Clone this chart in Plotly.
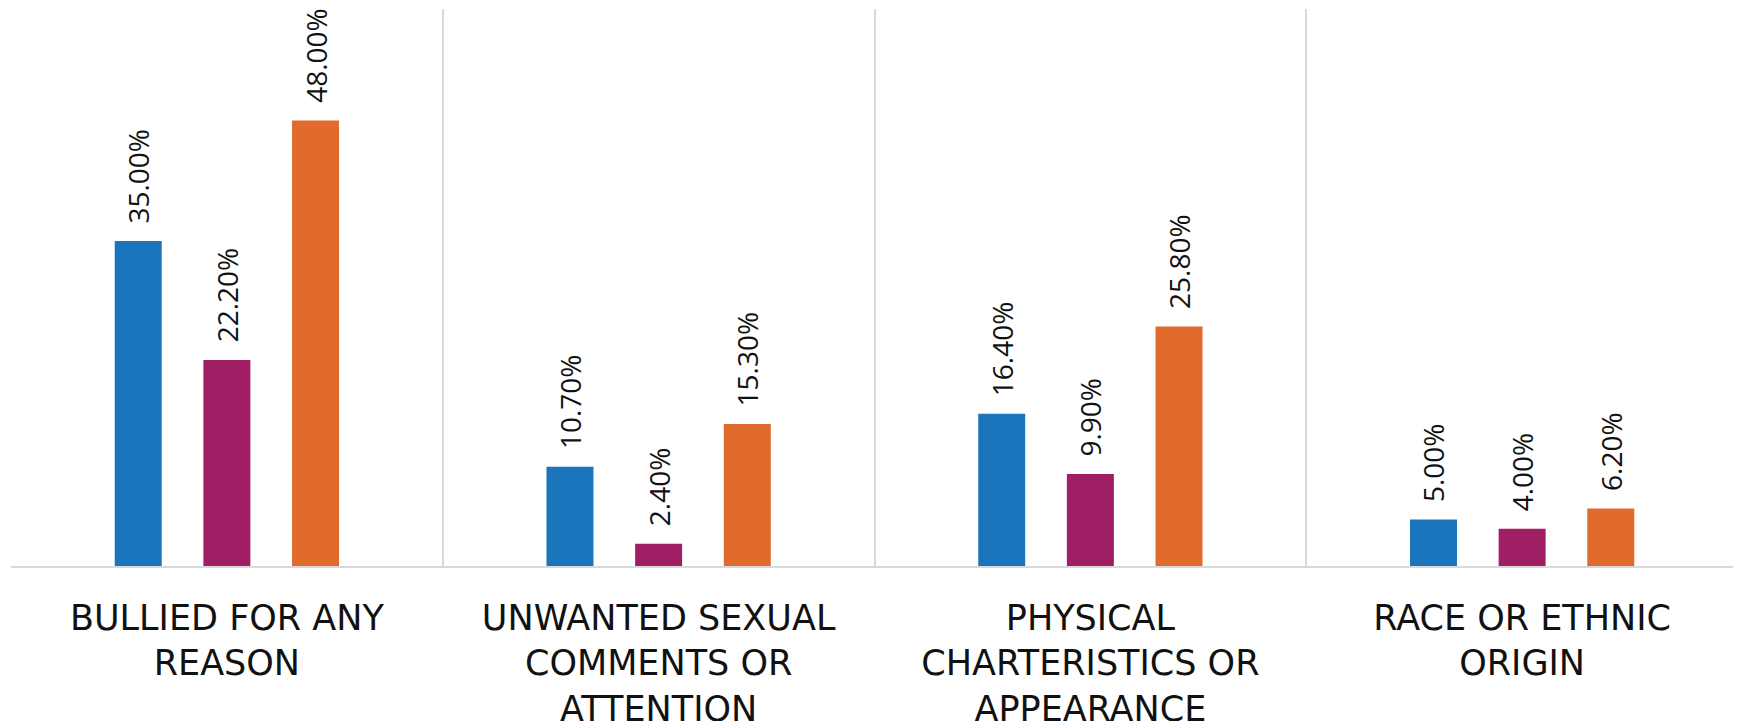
import plotly.graph_objects as go

categories = [
    "BULLIED FOR ANY<br>REASON",
    "UNWANTED SEXUAL<br>COMMENTS OR<br>ATTENTION",
    "PHYSICAL<br>CHARTERISTICS OR<br>APPEARANCE",
    "RACE OR ETHNIC<br>ORIGIN",
]
series_names = ["Series 1", "Series 2", "Series 3"]
series1 = [35.0, 10.7, 16.4, 5.0]
series2 = [22.2, 2.4, 9.9, 4.0]
series3 = [48.0, 15.3, 25.8, 6.2]
colors = ["#1B75BC", "#A01E64", "#E16B2D"]

fig = go.Figure()
for name, vals, col in zip(series_names, [series1, series2, series3], colors):
    fig.add_trace(go.Bar(
        x=categories, y=vals, name=name,
        marker=dict(color=col, line=dict(width=0)),
        text=[f"\u00a0\u00a0{v:.2f}%" for v in vals],
        textposition="outside",
        textangle=-90,
        constraintext="none",
        cliponaxis=False,
        textfont=dict(family="Open Sans", size=28, color="#111111"),
    ))

fig.update_layout(
    width=1733, height=713,
    margin=dict(l=3, r=3, t=1, b=155),
    paper_bgcolor="white", plot_bgcolor="white",
    barmode="group", bargap=0.384, bargroupgap=0.47,
    showlegend=False,
    font=dict(family="DejaVu Sans", color="#111111"),
)
fig.update_xaxes(
    type="category",
    tickson="boundaries",
    showgrid=True, gridcolor="#D9D9D9", gridwidth=1.5,
    showline=True, linecolor="#D9D9D9", linewidth=1.5,
    ticks="", ticklabelstandoff=20,
    tickfont=dict(family="DejaVu Sans", size=35, color="#111111"),
    automargin=False,
)
fig.update_yaxes(
    range=[0, 60], showgrid=False, showticklabels=False,
    zeroline=False, showline=False, ticks="",
)

fig.write_html("out.html")
